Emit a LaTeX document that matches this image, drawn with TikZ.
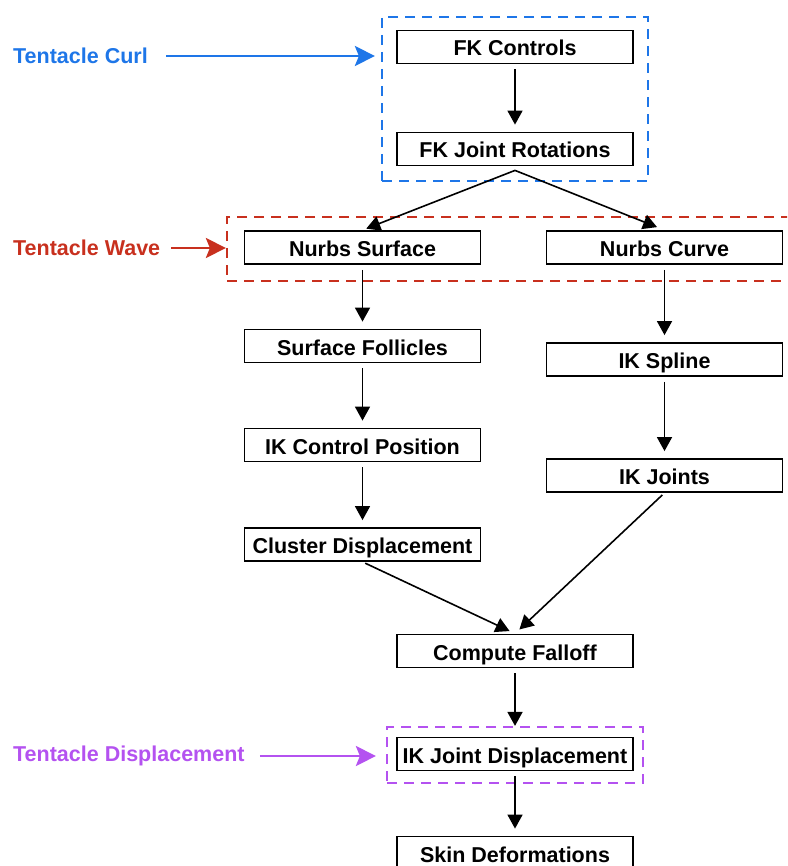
\documentclass[tikz,border=0pt]{standalone}
\usepackage{fontspec}
\setmainfont{Liberation Sans}
\usetikzlibrary{arrows.meta,positioning}
\definecolor{curlblue}{RGB}{30,118,232}
\definecolor{wavered}{RGB}{200,48,30}
\definecolor{disppurple}{RGB}{180,82,240}
\begin{document}
\begin{tikzpicture}[x=1pt,y=-1pt,
    every node/.style={font=\fontsize{21.5}{24}\selectfont\bfseries},
    stage/.style={draw,line width=1.8pt,minimum width=236pt,minimum height=33pt,inner sep=0pt,
      text height=18pt,text depth=0pt},
    group/.style={draw,line width=2.2pt,dash pattern=on 10pt off 7pt,inner sep=0pt},
    flow/.style={-{Triangle[length=14pt,width=15pt]},line width=1.6pt,shorten <=5pt,shorten >=7pt},
    tag/.style={anchor=west,inner sep=0pt},
    pointer/.style={-{Stealth[length=20pt,width=20pt,inset=4pt]},line width=2.6pt}]
    \useasboundingbox (0,0) rectangle (787,866);
    \clip (0,0) rectangle (787,866);

    % the dashed groups
    \node[group,draw=curlblue,minimum width=266pt,minimum height=164pt] (curlgrp) at (515,99) {};
    \node[group,draw=wavered,minimum width=573pt,minimum height=64pt] (wavegrp) at (513.5,249) {};
    \node[group,draw=disppurple,minimum width=256pt,minimum height=56pt] (dispgrp) at (515,755) {};

    % the stages
    \node[stage] (ctrl) at (515,47) {FK Controls};
    \node[stage] (rot) at (515,149) {FK Joint Rotations};
    \node[stage] (surf) at (362.5,247.5) {Nurbs Surface};
    \node[stage] (curve) at (664.5,247.5) {Nurbs Curve};
    \node[stage] (foll) at (362.5,346) {Surface Follicles};
    \node[stage] (spline) at (664.5,359.5) {IK Spline};
    \node[stage] (ikpos) at (362.5,445) {IK Control Position};
    \node[stage] (ikjnt) at (664.5,475.5) {IK Joints};
    \node[stage] (clus) at (362.5,544.5) {Cluster Displacement};
    \node[stage] (fall) at (515,651) {Compute Falloff};
    \node[stage] (jdisp) at (515,754) {IK Joint Displacement};
    \node[stage] (skin) at (515,853) {Skin Deformations};

    % the flow arrows
    \coordinate (split) at ([yshift=-4pt]rot.south);
    \draw[flow] (ctrl) -- (rot);
    \draw[flow,shorten <=0pt,shorten >=4pt] (split) -- (surf.north);
    \draw[flow,shorten <=0pt,shorten >=8pt] (split) -- (curve.north);
    \draw[flow] (surf) -- (foll);
    \draw[flow] (curve) -- (spline);
    \draw[flow] (foll) -- (ikpos);
    \draw[flow] (spline) -- (ikjnt);
    \draw[flow] (ikpos) -- (clus);
    \draw[flow,shorten <=3pt,shorten >=6pt] (clus.south) -- (fall.north);
    \draw[flow,shorten <=3pt,shorten >=6pt] (ikjnt.south) -- (fall.north);
    \draw[flow,shorten >=0pt] (fall) -- (dispgrp.north);
    \draw[flow] (jdisp) -- (skin);

    % the labels and their pointers
    \node[tag,text=curlblue] (curltag) at (13,56) {Tentacle Curl};
    \node[tag,text=wavered] (wavetag) at (13,248) {Tentacle Wave};
    \node[tag,text=disppurple] (disptag) at (13,756) {Tentacle Displacement};
    \draw[pointer,curlblue,shorten <=18pt,shorten >=6pt] (curltag.east) -- (curltag.east -| curlgrp.west);
    \draw[pointer,wavered,shorten <=11pt,shorten >=0pt] (wavetag.east) -- (wavetag.east -| wavegrp.west);
    \draw[pointer,disppurple,shorten <=15pt,shorten >=10pt] (disptag.east) -- (disptag.east -| dispgrp.west);
\end{tikzpicture}
\end{document}
